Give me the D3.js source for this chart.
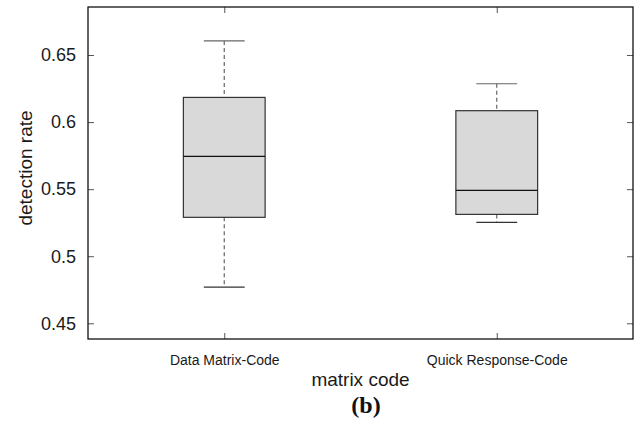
<!DOCTYPE html>
<html>
<head>
<meta charset="utf-8">
<title>detection rate by matrix code</title>
<script src="https://cdn.jsdelivr.net/npm/d3@7"></script>
<style>
  body { margin: 0; background: #fff; }
  svg { display: block; font-family: "Liberation Sans", Arial, Helvetica, sans-serif; }
</style>
</head>
<body>
<svg id="chart"></svg>
<script>
const WIDTH = 636;
const HEIGHT = 429;

// data
const categories = ["Data Matrix-Code", "Quick Response-Code"];
const whiskerLow  = [0.477, 0.5252];
const q1          = [0.529, 0.5312];
const medians     = [0.5744, 0.5491];
const q3          = [0.6184, 0.6085];
const whiskerHigh = [0.6605, 0.6286];
const yTicks = [0.45, 0.5, 0.55, 0.6, 0.65];

const margin = {top: 7, right: 3, bottom: 90, left: 88};
const plotW = WIDTH - margin.left - margin.right;
const plotH = HEIGHT - margin.top - margin.bottom;

const svg = d3.select("#chart")
    .attr("width", WIDTH)
    .attr("height", HEIGHT);

const g = svg.append("g")
    .attr("transform", `translate(${margin.left},${margin.top})`);

// matlab style: boxes at 1 and 2, xlim [0.5, 2.5]
const x = d3.scaleLinear().domain([0.5, 2.5]).range([0, plotW]);
const y = d3.scaleLinear().domain([0.4383, 0.6858]).range([plotH, 0]);

const boxW = x(1.15) - x(0.85);
const capW = x(1.075) - x(0.925);

const boxes = categories.map((c, i) => ({
    name: c, pos: i + 1,
    lo: whiskerLow[i], q1: q1[i], med: medians[i], q3: q3[i], hi: whiskerHigh[i]
}));

const box = g.selectAll("g.box").data(boxes).enter().append("g").attr("class", "box");

// whiskers (dashed)
box.append("line")
    .attr("x1", d => x(d.pos)).attr("x2", d => x(d.pos))
    .attr("y1", d => y(d.hi)).attr("y2", d => y(d.q3))
    .attr("stroke", "#666").attr("stroke-width", 1.2).attr("stroke-dasharray", "4,3");
box.append("line")
    .attr("x1", d => x(d.pos)).attr("x2", d => x(d.pos))
    .attr("y1", d => y(d.q1)).attr("y2", d => y(d.lo))
    .attr("stroke", "#666").attr("stroke-width", 1.2).attr("stroke-dasharray", "4,3");

// caps
box.append("line")
    .attr("x1", d => x(d.pos) - capW / 2).attr("x2", d => x(d.pos) + capW / 2)
    .attr("y1", d => y(d.hi)).attr("y2", d => y(d.hi))
    .attr("stroke", "#666").attr("stroke-width", 1.2);
box.append("line")
    .attr("x1", d => x(d.pos) - capW / 2).attr("x2", d => x(d.pos) + capW / 2)
    .attr("y1", d => y(d.lo)).attr("y2", d => y(d.lo))
    .attr("stroke", "#333").attr("stroke-width", 1.2);

// box
box.append("rect")
    .attr("x", d => x(d.pos) - boxW / 2)
    .attr("y", d => y(d.q3))
    .attr("width", boxW)
    .attr("height", d => y(d.q1) - y(d.q3))
    .attr("fill", "#d9d9d9")
    .attr("stroke", "#333")
    .attr("stroke-width", 1.2);

// median
box.append("line")
    .attr("x1", d => x(d.pos) - boxW / 2).attr("x2", d => x(d.pos) + boxW / 2)
    .attr("y1", d => y(d.med)).attr("y2", d => y(d.med))
    .attr("stroke", "#111").attr("stroke-width", 1.2);

// axes with inward ticks, mirrored on top/right
const yAxis = d3.axisLeft(y).tickValues(yTicks).tickFormat(d3.format("~g")).tickSize(-6).tickPadding(12);
const yAxisR = d3.axisRight(y).tickValues(yTicks).tickFormat("").tickSize(-6);
const xAxis = d3.axisBottom(x).tickValues([1, 2]).tickFormat((d, i) => categories[i]).tickSize(-6).tickPadding(16);
const xAxisT = d3.axisTop(x).tickValues([1, 2]).tickFormat("").tickSize(-6);

const gy = g.append("g").call(yAxis);
gy.selectAll("text").attr("font-size", 18).attr("fill", "#1a1a1a").attr("font-family", null);

g.append("g").attr("transform", `translate(${plotW},0)`).call(yAxisR);

const gx = g.append("g").attr("transform", `translate(0,${plotH})`).call(xAxis);
gx.selectAll("text").attr("font-size", 14).attr("fill", "#1a1a1a").attr("font-family", null);

g.append("g").call(xAxisT);

g.selectAll(".domain").remove();
g.selectAll(".tick line").attr("stroke", "#555").attr("stroke-width", 1);

// frame
g.append("rect")
    .attr("width", plotW).attr("height", plotH)
    .attr("fill", "none").attr("stroke", "#111").attr("stroke-width", 1.3);

// axis titles
svg.append("text")
    .attr("transform", "translate(32,168) rotate(-90)")
    .attr("text-anchor", "middle")
    .attr("font-size", 19).attr("fill", "#1a1a1a")
    .text("detection rate");

svg.append("text")
    .attr("x", margin.left + plotW / 2).attr("y", 386)
    .attr("text-anchor", "middle")
    .attr("font-size", 19).attr("fill", "#1a1a1a")
    .text("matrix code");

svg.append("text")
    .attr("x", 366).attr("y", 413)
    .attr("text-anchor", "middle")
    .attr("font-family", "'Liberation Serif', 'Times New Roman', serif")
    .attr("font-weight", "bold")
    .attr("font-size", 24).attr("fill", "#111")
    .text("(b)");
</script>
</body>
</html>
